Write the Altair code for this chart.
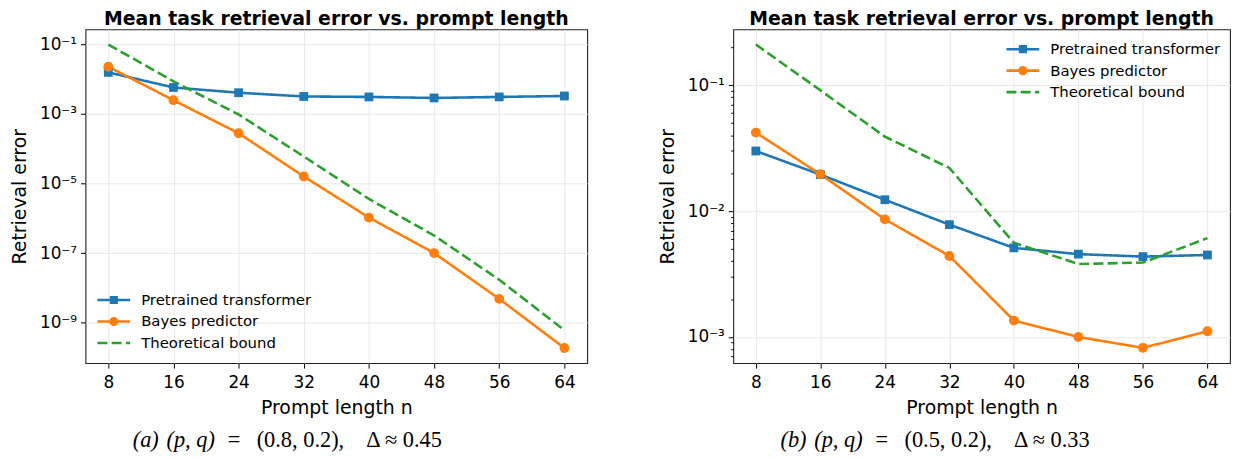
import altair as alt
import pandas as pd

# ---------------- data ----------------
n_vals = [8, 16, 24, 32, 40, 48, 56, 64]
series_names = ["Pretrained transformer", "Bayes predictor", "Theoretical bound"]
colors = ["#1f77b4", "#ff7f0e", "#2ca02c"]

# panel (a): (p, q) = (0.8, 0.2)
tf_a = [0.0158, 0.0058, 0.0041, 0.0032, 0.0031, 0.0029, 0.0031, 0.0033]
bayes_a = [0.023, 0.0025, 2.8e-4, 1.6e-5, 1.05e-6, 1.0e-7, 4.8e-9, 1.85e-10]
bound_a = [0.1, 0.0087, 9.7e-4, 6.0e-5, 3.6e-6, 3.2e-7, 1.7e-8, 6.0e-10]

# panel (b): (p, q) = (0.5, 0.2)
tf_b = [0.030, 0.0195, 0.0123, 0.0078, 0.0051, 0.00455, 0.00435, 0.00448]
bayes_b = [0.042, 0.0196, 0.0086, 0.0044, 0.00135, 0.0010, 0.00082, 0.00111]
bound_b = [0.21, 0.091, 0.039, 0.022, 0.0056, 0.0038, 0.0039, 0.0061]

title_text = "Mean task retrieval error vs. prompt length"
x_title = "Prompt length n"
y_title = "Retrieval error"
cap_a = ["(a)", "(p, q)", "=", "(0.8, 0.2),", "\u0394 \u2248  0.45"]
cap_b = ["(b)", "(p, q)", "=", "(0.5, 0.2),", "\u0394 \u2248  0.33"]
cap_italic = [True, True, False, False, False]

# tick values
yticks_a = [1e-1, 1e-3, 1e-5, 1e-7, 1e-9]
yticks_b = [1e-1, 1e-2, 1e-3] + [m * 1e-1 for m in [2]] + [m * 1e-2 for m in range(2, 10)] \
    + [m * 1e-3 for m in range(2, 10)] + [m * 1e-4 for m in [7, 8, 9]]

ydom_a = [6.8e-11, 0.2735]
ydom_b = [6.2e-4, 0.2775]

# ---------------- helpers ----------------
SUP = {"0": "\u2070", "1": "\u00b9", "2": "\u00b2", "3": "\u00b3", "4": "\u2074",
       "5": "\u2075", "6": "\u2076", "7": "\u2077", "8": "\u2078", "9": "\u2079", "-": "\u207b"}


def sup(e):
    return "".join(SUP[c] for c in str(e))


E = "round(log(datum.value)/LN10)"
MAJ = "abs(log(datum.value)/LN10 - round(log(datum.value)/LN10)) < 0.001"
chain = ""
for e in range(-1, -12, -1):
    chain += f"{E} == {e} ? '10{sup(e)}' : "
chain += "''"
label_expr = f"({MAJ}) ? ({chain}) : ''"

FONT = "DejaVu Sans"
CAP_X = [47.5, 81.5, 143.3, 172.3, 282.5]

# ---- legend glyphs (line + marker) as custom symbol paths, unit = sqrt(size)/2 px ----
LEG_SIZE = 81
U = (LEG_SIZE ** 0.5) / 2.0          # px per path unit
HL = 16.5 / U                          # half line length
HT = 1.3 / U                           # half line thickness
SQ = 4.1 / U                           # half square side
CR = 4.6 / U                           # circle radius
ROW = 21.6                             # legend row spacing (px)


def rect(x0, x1, h):
    return f"M{x0:.3f},{-h:.3f}H{x1:.3f}V{h:.3f}H{x0:.3f}Z"


def circle(r):
    return (f"M{-r:.3f},0A{r:.3f},{r:.3f} 0 1,1 {r:.3f},0"
            f"A{r:.3f},{r:.3f} 0 1,1 {-r:.3f},0Z")


path_tf = rect(-HL, -SQ, HT) + rect(SQ, HL, HT) + rect(-SQ, SQ, SQ)
path_bayes = rect(-HL, -CR + 0.1, HT) + rect(CR - 0.1, HL, HT) + circle(CR)
dash_on, dash_off = 10 / U, 4.3 / U
segs = []
pos = -HL
while pos < HL:
    segs.append(rect(pos, min(pos + dash_on, HL), HT))
    pos += dash_on + dash_off
path_bound = "".join(segs)
legend_paths = [path_tf, path_bayes, path_bound]


def long_df(tf, ba, bd):
    rows = []
    for s, vals in zip(series_names, [tf, ba, bd]):
        for n, v in zip(n_vals, vals):
            rows.append({"n": n, "err": v, "series": s})
    return pd.DataFrame(rows)


def panel(df, ydom, yticks, width, height, lx, ly, caps):
    xscale = alt.Scale(domain=[5.2, 66.8], nice=False, zero=False)
    yscale = alt.Scale(type="log", domain=ydom, nice=False)
    xaxis = alt.Axis(values=n_vals, title=x_title, format="d", grid=True,
                     gridColor="#e8e8e8", gridWidth=1, domain=False,
                     tickSize=5, tickColor="black", tickWidth=1,
                     labelPadding=7, labelFontSize=17, labelFont=FONT, labelColor="black",
                     titlePadding=8, titleFontSize=19, titleFont=FONT,
                     titleFontWeight="normal", titleColor="black", labelOverlap=False,
                     labelFlush=False)
    yaxis = alt.Axis(values=yticks, title=y_title, labelExpr=label_expr, grid=True,
                     gridColor="#e8e8e8", gridWidth=1,
                     gridOpacity={"condition": {"test": MAJ, "value": 1}, "value": 0},
                     domain=False,
                     tickSize={"condition": {"test": MAJ, "value": 5}, "value": 2.5},
                     tickColor="black", tickWidth=1,
                     labelPadding=4, labelFontSize=17, labelFont=FONT, labelColor="black",
                     titlePadding=10, titleFontSize=19, titleFont=FONT,
                     titleFontWeight="normal", titleColor="black", labelOverlap=False,
                     labelFlush=False)
    x = alt.X("n:Q", scale=xscale, axis=xaxis)
    y = alt.Y("err:Q", scale=yscale, axis=yaxis)

    lines = alt.Chart(df).mark_line(strokeWidth=2.6).encode(
        x=x, y=y,
        stroke=alt.Stroke("series:N", scale=alt.Scale(domain=series_names, range=colors),
                          legend=None),
        strokeDash=alt.StrokeDash("series:N",
                                  scale=alt.Scale(domain=series_names,
                                                  range=[[1, 0], [1, 0], [10, 4.3]]),
                                  legend=None),
    )
    fill_scale = alt.Scale(domain=series_names, range=colors)
    sq = alt.Chart(df).transform_filter(
        alt.FieldEqualPredicate(field="series", equal=series_names[0])
    ).mark_square(opacity=1, size=78).encode(
        x=x, y=y, fill=alt.Fill("series:N", scale=fill_scale, legend=None))
    ci = alt.Chart(df).transform_filter(
        alt.FieldEqualPredicate(field="series", equal=series_names[1])
    ).mark_circle(opacity=1, size=98).encode(
        x=x, y=y, fill=alt.Fill("series:N", scale=fill_scale, legend=None))

    layers = [lines, sq, ci]
    # one single-entry legend per series (line + marker glyph in the series colour)
    for i, name in enumerate(series_names):
        legend = alt.Legend(orient="none", legendX=lx, legendY=ly + i * ROW, title=None,
                            symbolSize=LEG_SIZE, symbolOffset=9, symbolStrokeWidth=0,
                            labelOffset=20, labelFontSize=15, labelFont=FONT,
                            labelColor="black", labelLimit=400, padding=0)
        layers.append(
            alt.Chart(df).transform_filter("false").mark_point(
                filled=True, opacity=1, size=LEG_SIZE, color=colors[i]).encode(
                shape=alt.Shape("series:N",
                                scale=alt.Scale(domain=[name], range=[legend_paths[i]]),
                                legend=legend)
            )
        )

    for i, (txt, it) in enumerate(zip(caps, cap_italic)):
        cdf = pd.DataFrame({"t": [txt]})
        kw = dict(align="left", baseline="alphabetic", font="Liberation Serif",
                  fontSize=22.5, color="black")
        if it:
            kw["fontStyle"] = "italic"
        layers.append(alt.Chart(cdf).mark_text(**kw).encode(
            x=alt.value(CAP_X[i]), y=alt.value(height + 84), text="t:N"))

    return alt.layer(*layers).resolve_scale(shape="independent").properties(
        width=width, height=height,
        title=alt.Title(title_text, font=FONT, fontSize=19, fontWeight="bold",
                        color="black", anchor="middle", offset=0),
    )


df_a = long_df(tf_a, bayes_a, bound_a)
df_b = long_df(tf_b, bayes_b, bound_b)

pa = panel(df_a, ydom_a, yticks_a, 505, 336, 12, 265, cap_a)
pb = panel(df_b, ydom_b, yticks_b, 500, 336, 275, 12.5, cap_b)

chart = alt.hconcat(pa, pb, spacing=70).resolve_scale(
    stroke="independent", strokeDash="independent", fill="independent",
    shape="independent", x="independent", y="independent",
).configure_view(stroke="#222222", strokeWidth=1.1).properties(
    padding={"left": 2, "top": 0, "right": 0, "bottom": 0}
)

chart.save("out.html", embed_options={"renderer": "svg", "actions": False})
